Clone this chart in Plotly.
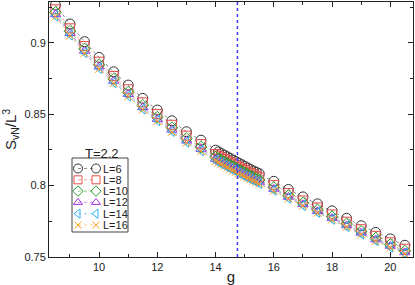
import plotly.graph_objects as go

g = [8.5, 9.0, 9.5, 10.0, 10.5, 11.0, 11.5, 12.0, 12.5, 13.0, 13.5,
     14.0, 14.1, 14.2, 14.3, 14.4, 14.5, 14.6, 14.7, 14.8, 14.9, 15.0, 15.1, 15.2, 15.3, 15.4, 15.5,
     16.0, 16.5, 17.0, 17.5, 18.0, 18.5, 19.0, 19.5, 20.0, 20.5]

L6 = [0.9265, 0.9132, 0.9008, 0.8898, 0.8797, 0.8704, 0.8611, 0.8529, 0.8454, 0.8377, 0.8318,
      0.8248, 0.8236, 0.8224, 0.8213, 0.8202, 0.8190, 0.8179, 0.8168, 0.8157, 0.8146, 0.8135, 0.8124, 0.8113, 0.8103, 0.8093, 0.8083,
      0.8030, 0.7973, 0.7921, 0.7872, 0.7823, 0.7771, 0.7719, 0.7672, 0.7627, 0.7582]
L8 = [0.9235, 0.9102, 0.8978, 0.8868, 0.8768, 0.8675, 0.8583, 0.8501, 0.8426, 0.8350, 0.8291,
      0.8221, 0.8209, 0.8197, 0.8186, 0.8175, 0.8164, 0.8153, 0.8142, 0.8131, 0.8120, 0.8109, 0.8098, 0.8088, 0.8078, 0.8068, 0.8058,
      0.8005, 0.7948, 0.7896, 0.7847, 0.7798, 0.7747, 0.7695, 0.7648, 0.7603, 0.7558]
L10 = [0.9213, 0.9081, 0.8957, 0.8847, 0.8747, 0.8654, 0.8562, 0.8480, 0.8405, 0.8329, 0.8270,
       0.8200, 0.8188, 0.8177, 0.8166, 0.8155, 0.8144, 0.8133, 0.8122, 0.8111, 0.8100, 0.8089, 0.8079, 0.8069, 0.8059, 0.8049, 0.8039,
       0.7987, 0.7930, 0.7879, 0.7830, 0.7782, 0.7731, 0.7679, 0.7632, 0.7587, 0.7542]
L12 = [0.9199, 0.9067, 0.8943, 0.8833, 0.8733, 0.8640, 0.8548, 0.8466, 0.8391, 0.8315, 0.8256,
       0.8186, 0.8175, 0.8164, 0.8153, 0.8142, 0.8131, 0.8120, 0.8109, 0.8098, 0.8087, 0.8076, 0.8066, 0.8056, 0.8046, 0.8036, 0.8026,
       0.7976, 0.7920, 0.7869, 0.7820, 0.7772, 0.7721, 0.7669, 0.7622, 0.7577, 0.7532]
L14 = [0.9188, 0.9056, 0.8932, 0.8822, 0.8722, 0.8629, 0.8537, 0.8456, 0.8381, 0.8305, 0.8246,
       0.8176, 0.8165, 0.8154, 0.8143, 0.8132, 0.8121, 0.8110, 0.8099, 0.8088, 0.8078, 0.8067, 0.8057, 0.8047, 0.8037, 0.8027, 0.8017,
       0.7968, 0.7913, 0.7862, 0.7813, 0.7765, 0.7714, 0.7662, 0.7615, 0.7570, 0.7525]
L16 = [0.9184, 0.9052, 0.8928, 0.8818, 0.8718, 0.8625, 0.8533, 0.8452, 0.8377, 0.8301, 0.8242,
       0.8172, 0.8161, 0.8150, 0.8139, 0.8128, 0.8117, 0.8106, 0.8096, 0.8085, 0.8075, 0.8064, 0.8054, 0.8044, 0.8034, 0.8024, 0.8014,
       0.7965, 0.7910, 0.7859, 0.7810, 0.7762, 0.7711, 0.7659, 0.7612, 0.7567, 0.7522]

names = ["L=6", "L=8", "L=10", "L=12", "L=14", "L=16"]
series = [L6, L8, L10, L12, L14, L16]
legend_title = "T=2.2"
g_c = 14.75

colors = ["#333333", "#e8504a", "#2ea02e", "#a030e0", "#30b0f0", "#ffa020"]
line_colors = ["rgba(51,51,51,0.55)", "rgba(232,80,74,0.55)", "rgba(46,160,46,0.55)",
               "rgba(160,48,224,0.55)", "rgba(48,176,240,0.55)", "rgba(255,160,32,0.55)"]
symbols = ["circle-open", "square-open", "diamond-open", "triangle-up-open", "triangle-left-open", "x-thin-open"]
sizes = [10, 9, 9, 9, 9, 8]

# plot area in pixels
PL, PR, PT, PB = 49, 413, 2, 257

fig = go.Figure()
for n, y, c, lc, s, sz in zip(names, series, colors, line_colors, symbols, sizes):
    fig.add_trace(go.Scatter(
        x=g, y=y, name=n, mode="lines+markers",
        line=dict(color=lc, width=1, dash="dot"),
        marker=dict(symbol=s, size=sz, color=c, line=dict(color=c, width=1)),
        showlegend=False,
    ))

fig.add_vline(x=g_c, line=dict(color="#3a3aff", width=1.5, dash="dot"))

# hand-drawn legend (grace style: marker - line - marker) on a pixel overlay axis
box_x0, box_x1, box_y0, box_y1 = 72, 128, 158, 232
row0, row_step = 168.5, 11.3
mx0, mx1, tx = 78, 96, 101
fig.add_shape(type="rect", xref="x2", yref="y2", x0=box_x0, x1=box_x1, y0=box_y0, y1=box_y1,
              line=dict(color="#444", width=1), fillcolor="white", layer="below")
for i, (n, c, lc, s, sz) in enumerate(zip(names, colors, line_colors, symbols, sizes)):
    yy = row0 + i * row_step
    fig.add_trace(go.Scatter(
        x=[mx0, mx1], y=[yy, yy], xaxis="x2", yaxis="y2", mode="lines+markers",
        line=dict(color=lc, width=1, dash="dot"),
        marker=dict(symbol=s, size=sz - 1, color=c, line=dict(color=c, width=1)),
        showlegend=False, hoverinfo="skip",
    ))
    fig.add_annotation(xref="x2", yref="y2", x=tx, y=yy, text=n, showarrow=False,
                       xanchor="left", yanchor="middle", font=dict(size=11, color="#222"))
fig.add_annotation(xref="x2", yref="y2", x=101.5, y=153, text=legend_title, showarrow=False,
                   xanchor="center", yanchor="middle", font=dict(size=13, color="#222"))

axis_common = dict(showline=True, linecolor="#222", linewidth=1, mirror="allticks",
                   ticks="inside", ticklen=5, tickcolor="#222", showgrid=False, zeroline=False,
                   tickfont=dict(size=11, color="#222"))
fig.update_xaxes(range=[8.28, 20.78], dtick=2, tick0=0,
                 minor=dict(ticks="inside", ticklen=3, dtick=1, tick0=0, tickcolor="#222"),
                 title=dict(text="g", font=dict(size=15, color="#222"), standoff=0),
                 **axis_common)
fig.update_yaxes(range=[0.75, 0.9286], dtick=0.05, tick0=0,
                 minor=dict(ticks="inside", ticklen=3, dtick=0.025, tick0=0, tickcolor="#222"),
                 title=dict(text="S<sub>vN</sub>/L<sup>3</sup>", font=dict(size=15, color="#222"), standoff=8),
                 **axis_common)

fig.update_layout(
    width=415, height=285,
    margin=dict(l=PL, r=415 - PR, t=PT, b=285 - PB, autoexpand=False),
    paper_bgcolor="white", plot_bgcolor="white",
    font=dict(family="Liberation Sans, Arial, sans-serif", color="#222"),
    xaxis2=dict(overlaying="x", range=[PL, PR], visible=False, fixedrange=True),
    yaxis2=dict(overlaying="y", range=[PB, PT], visible=False, fixedrange=True),
    showlegend=False,
)

fig.write_html("out.html", config={"displayModeBar": False},
               post_script="document.body.style.margin='0px';document.body.style.overflow='hidden';")
